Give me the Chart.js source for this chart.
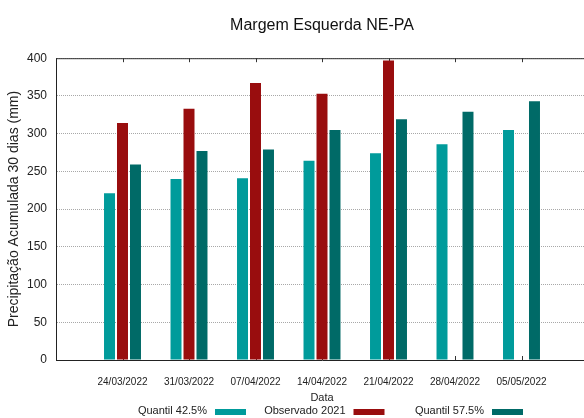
<!DOCTYPE html>
<html lang="pt">
<head>
<meta charset="UTF-8">
<title>Margem Esquerda NE-PA</title>
<script src="https://cdn.jsdelivr.net/npm/chart.js@4.4.1/dist/chart.umd.min.js"></script>
<style>
  html, body { margin: 0; padding: 0; overflow: hidden; background: #fff; }
  #wrap { width: 590px; height: 418px; }
</style>
</head>
<body>
<div id="wrap"><canvas id="chart"></canvas></div>
<script>
const datas = ['24/03/2022', '31/03/2022', '07/04/2022', '14/04/2022', '21/04/2022', '28/04/2022', '05/05/2022']
const quantil425 = [221, 240, 241, 264, 274, 286, 305]
const observado2021 = [314, 333, 367, 353, 397, null, null]
const quantil575 = [259, 277, 279, 305, 319, 329, 343]
const yTicks = [0, 50, 100, 150, 200, 250, 300, 350, 400]

const sans = "'Liberation Sans', Arial, sans-serif"

// bars sit on a linear x axis at 1..7 so the plot keeps a blank slot on both sides
const asPoints = arr => arr.map((v, i) => ({ x: i + 1, y: v }))

const frame = {
  id: 'frame',
  beforeDatasetsDraw(chart) {
    const { ctx, chartArea: a, scales: { x } } = chart
    ctx.save()
    ctx.strokeStyle = '#333'
    ctx.lineWidth = 1
    ctx.beginPath()
    ctx.moveTo(a.left, a.top + 0.5)
    ctx.lineTo(a.right, a.top + 0.5)
    datas.forEach((d, i) => {
      const px = Math.round(x.getPixelForValue(i + 1)) + 0.5
      ctx.moveTo(px, a.top)
      ctx.lineTo(px, a.top + 4)
      ctx.moveTo(px, a.bottom)
      ctx.lineTo(px, a.bottom - 4)
    })
    ctx.stroke()
    ctx.restore()
  },
  afterDraw(chart) {
    // gnuplot style key: text first, colour swatch after it
    const { ctx } = chart
    ctx.save()
    ctx.font = "11px " + sans
    ctx.textAlign = 'right'
    ctx.textBaseline = 'middle'
    chart.data.datasets.forEach((ds, i) => {
      const sx = 215 + i * 138.5
      ctx.fillStyle = '#222'
      ctx.fillText(ds.label, sx - 8, 411)
      ctx.fillStyle = ds.backgroundColor
      ctx.fillRect(sx, 409, 31, 6)
    })
    ctx.restore()
  }
}

new Chart(document.getElementById('chart'), {
  type: 'bar',
  data: {
    datasets: [
      { label: 'Quantil 42.5%', data: asPoints(quantil425), backgroundColor: '#009b9b' },
      { label: 'Observado 2021', data: asPoints(observado2021), backgroundColor: '#990d0e' },
      { label: 'Quantil 57.5%', data: asPoints(quantil575), backgroundColor: '#006a67' }
    ]
  },
  options: {
    responsive: true,
    maintainAspectRatio: false,
    animation: false,
    categoryPercentage: 0.586,
    barPercentage: 0.846,
    layout: { padding: { right: 2, bottom: 13 } },
    plugins: {
      legend: { display: false },
      tooltip: { enabled: false },
      title: {
        display: true,
        fullSize: false,
        text: 'Margem Esquerda NE-PA',
        color: '#111',
        font: { family: sans, size: 16, weight: 'normal' },
        padding: { top: 16, bottom: 23 }
      }
    },
    scales: {
      x: {
        type: 'linear',
        offset: false,
        min: 0,
        max: 8,
        afterBuildTicks: s => { s.ticks = datas.map((d, i) => ({ value: i + 1 })) },
        afterFit: s => { s.height = 45 },
        ticks: {
          callback: v => datas[v - 1] || '',
          maxRotation: 0,
          autoSkip: false,
          padding: 16,
          color: '#222',
          font: { family: sans, size: 10 }
        },
        grid: { display: false, drawTicks: false },
        border: { display: true, color: '#222', width: 1 },
        title: {
          display: true,
          text: 'Data',
          color: '#222',
          font: { family: sans, size: 11 },
          padding: { top: 0, bottom: 0 }
        }
      },
      y: {
        min: 0,
        max: 400,
        afterBuildTicks: s => { s.ticks = yTicks.map(v => ({ value: v })) },
        afterFit: s => { s.width = 56 },
        ticks: {
          padding: 9,
          color: '#222',
          font: { family: sans, size: 12 }
        },
        grid: {
          color: '#a8a8a8',
          drawTicks: false
        },
        border: { display: true, color: '#222', width: 1, dash: [1, 1] },
        title: {
          display: true,
          text: 'Precipitação Acumulada 30 dias (mm)',
          color: '#222',
          font: { family: sans, size: 14 },
          padding: { top: 6, bottom: 0 }
        }
      }
    }
  },
  plugins: [frame]
})
</script>
</body>
</html>
